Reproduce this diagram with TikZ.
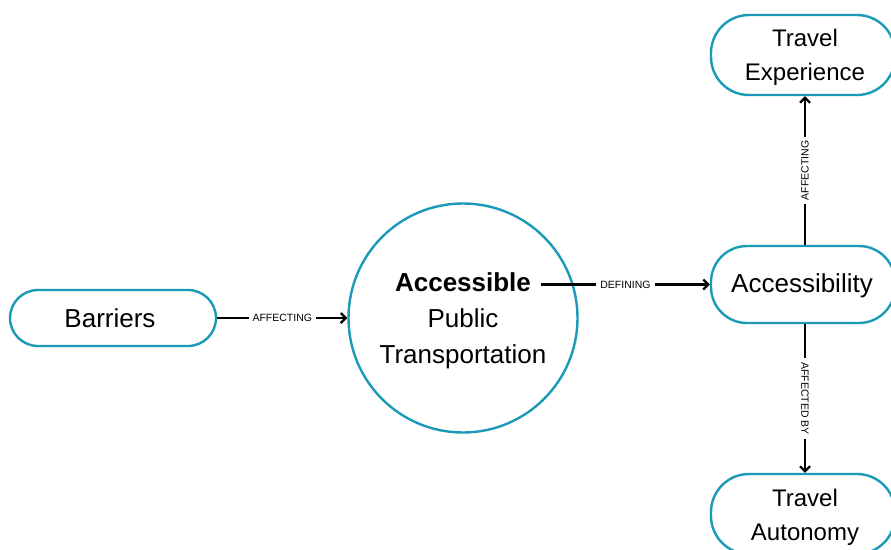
\documentclass[tikz,border=0pt]{standalone}
\usepackage{fontspec}
\setmainfont{Liberation Sans}
\usetikzlibrary{arrows.meta}
\definecolor{rim}{HTML}{1B9AB8}
\begin{document}
\begin{tikzpicture}[x=1pt,y=-1pt,
  pill/.style={draw=rim, line width=2.4pt, fill=white, inner sep=0pt},
  word/.style={anchor=base, inner sep=0pt, font=\fontsize{26}{30}\selectfont},
  smallword/.style={anchor=base, inner sep=0pt, font=\fontsize{24}{30}\selectfont},
  link/.style={line width=2.2pt, -{Straight Barb[length=5pt,width=10pt,line width=2.2pt]}},
  tag/.style={fill=white, font=\fontsize{10.5}{12}\selectfont, inner xsep=4pt, inner ysep=2pt}]
\useasboundingbox (0,0) rectangle (891,549);
% outlines
\node[pill, minimum width=206pt, minimum height=56pt, rounded corners=28pt] (barriers) at (113,318) {};
\node[draw=rim, line width=2.4pt, circle, minimum size=229pt, inner sep=0pt] (apt) at (463,318) {};
\node[pill, minimum width=184pt, minimum height=77pt, rounded corners=36pt] (access) at (803,284.5) {};
\node[pill, minimum width=184pt, minimum height=80pt, rounded corners=38pt] (exp) at (803,55) {};
\node[pill, minimum width=184pt, minimum height=80pt, rounded corners=38pt] (auto) at (803,514) {};
% texts
\node[word] (barriers-t) at (110,327.3) {Barriers};
\node[word, font=\bfseries\fontsize{26}{30}\selectfont] (acc) at (463,291.5) {Accessible};
\node[word] (pub) at (463,327.5) {Public};
\node[word] (trans) at (463,363.5) {Transportation};
\node[word] (access-t) at (802,292.7) {Accessibility};
\node[smallword] (exp-a) at (805,46.7) {Travel};
\node[smallword] (exp-b) at (805,80.7) {Experience};
\node[smallword] (auto-a) at (805,506.7) {Travel};
\node[smallword] (auto-b) at (805,540.7) {Autonomy};
% connectors
\path ([xshift=10pt]acc.east) coordinate (accx);
\draw[link] (barriers.east) -- node[tag] {AFFECTING} (apt.west);
\draw[link] (accx |- access.west) -- node[tag] {DEFINING} (access.west);
\draw[link] ([xshift=2pt]access.north) -- node[tag, rotate=90] {AFFECTING} ([xshift=2pt]exp.south);
\draw[link] ([xshift=2pt]access.south) -- node[tag, rotate=-90] {AFFECTED BY} ([xshift=2pt]auto.north);
\end{tikzpicture}
\end{document}
